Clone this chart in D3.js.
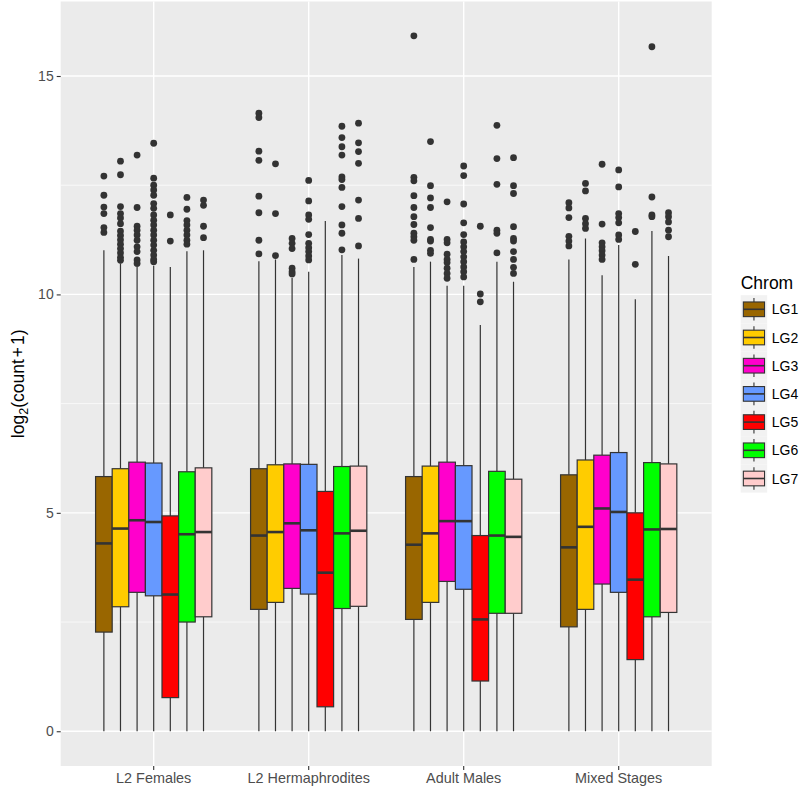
<!DOCTYPE html>
<html>
<head>
<meta charset="utf-8">
<script src="https://cdn.jsdelivr.net/npm/d3@7"></script>
<style>
  body { margin: 0; background: #fff; }
  svg { display: block; font-family: "Liberation Sans", Arial, Helvetica, sans-serif; }
</style>
</head>
<body>
<svg id="chart" width="800" height="790"></svg>
<script>
// ---------------- DATA ----------------
const stages = ["L2 Females", "L2 Hermaphrodites", "Adult Males", "Mixed Stages"];
const chroms = ["LG1", "LG2", "LG3", "LG4", "LG5", "LG6", "LG7"];
const chromColors = ["#996600", "#FFCC00", "#FF00CC", "#6699FF", "#FF0000", "#00FF00", "#FFCCCC"];
const yTicks = [0, 5, 10, 15];
const yMinor = [2.5, 7.5, 12.5];

// per stage, per chromosome
const whiskerLow = [
  [0, 0, 0, 0, 0, 0, 0],
  [0, 0, 0, 0, 0, 0, 0],
  [0, 0, 0, 0, 0, 0, 0],
  [0, 0, 0, 0, 0, 0, 0]
];
const q1 = [
  [2.27, 2.85, 3.18, 3.10, 0.77, 2.50, 2.62],
  [2.79, 2.95, 3.27, 3.14, 0.56, 2.81, 2.86],
  [2.56, 2.95, 3.43, 3.25, 1.15, 2.70, 2.70],
  [2.39, 2.79, 3.37, 3.18, 1.64, 2.62, 2.72]
];
const median = [
  [4.30, 4.64, 4.83, 4.79, 3.13, 4.51, 4.56],
  [4.48, 4.56, 4.76, 4.60, 3.63, 4.53, 4.59],
  [4.27, 4.53, 4.81, 4.81, 2.56, 4.48, 4.45],
  [4.21, 4.68, 5.10, 5.02, 3.47, 4.62, 4.63]
];
const q3 = [
  [5.83, 6.01, 6.16, 6.14, 4.93, 5.94, 6.03],
  [6.01, 6.10, 6.12, 6.11, 5.49, 6.06, 6.07],
  [5.83, 6.07, 6.16, 6.08, 4.48, 5.95, 5.77],
  [5.87, 6.21, 6.32, 6.38, 5.00, 6.15, 6.12]
];
const whiskerHigh = [
  [11.01, 10.71, 10.66, 10.66, 10.63, 10.99, 11.01],
  [10.76, 10.80, 10.38, 10.52, 11.68, 10.90, 10.82],
  [10.63, 10.75, 10.20, 10.20, 9.30, 10.75, 10.29],
  [10.80, 11.28, 10.44, 11.13, 9.89, 11.45, 10.88]
];
const outliers = [
  [ // L2 Females
    [12.71, 12.27, 12.0, 11.85, 11.53, 11.42],
    [13.05, 12.74, 12.01, 11.85, 11.75, 11.62, 11.45, 11.35, 11.25, 11.15, 11.05, 10.95, 10.85, 10.78],
    [13.19, 11.99, 11.56, 11.47, 11.36, 11.24, 11.09, 10.98, 10.79, 10.71],
    [13.46, 12.66, 12.5, 12.39, 12.27, 12.08, 11.97, 11.82, 11.70, 11.59, 11.47, 11.36, 11.24, 11.13, 11.01, 10.90, 10.80, 10.75],
    [11.82, 11.22],
    [12.22, 11.95, 11.69, 11.59, 11.47, 11.36, 11.24, 11.15],
    [12.16, 12.04, 11.56, 11.30]
  ],
  [ // L2 Hermaphrodites
    [14.15, 14.05, 13.28, 13.07, 12.25, 11.87, 11.24, 10.93],
    [12.99, 11.85, 10.89],
    [11.28, 11.17, 11.05, 10.60, 10.52, 10.47],
    [12.61, 12.14, 11.82, 11.72, 11.37, 11.17, 11.07, 10.98, 10.88, 10.79],
    [],
    [13.85, 13.59, 13.38, 13.19, 12.69, 12.63, 12.45, 12.01, 11.59, 11.40, 11.02],
    [13.92, 13.47, 13.27, 13.00, 12.16, 11.74, 11.11]
  ],
  [ // Adult Males
    [15.92, 12.68, 12.6, 12.26, 11.99, 11.78, 11.60, 11.40, 11.32, 11.24, 10.80],
    [13.50, 12.49, 12.21, 11.99, 11.53, 11.26, 11.22, 11.01, 10.94],
    [12.12, 11.26, 11.18, 10.92, 10.80, 10.73, 10.60, 10.48, 10.37],
    [12.94, 12.72, 12.07, 11.64, 11.37, 11.20, 11.09, 10.98, 10.86, 10.75, 10.63, 10.52, 10.40],
    [11.56, 10.01, 9.83],
    [13.87, 13.11, 12.52, 11.47, 11.40, 10.95],
    [13.13, 12.49, 12.31, 11.55, 11.28, 11.22, 10.98, 10.80, 10.62, 10.48]
  ],
  [ // Mixed Stages
    [12.10, 11.98, 11.76, 11.33, 11.22, 11.11],
    [12.54, 12.37, 11.74, 11.62, 11.51],
    [12.98, 11.61, 11.18, 11.09, 11.00, 10.90, 10.80],
    [12.85, 12.46, 11.85, 11.76, 11.64, 11.36, 11.26],
    [11.44, 10.69],
    [15.67, 12.23, 11.82, 11.78],
    [11.87, 11.78, 11.66, 11.47, 11.32]
  ]
];

// ---------------- LAYOUT ----------------
const svg = d3.select("#chart");
const P = { left: 60.7, right: 711.7, top: 1.5, bottom: 766 };
const ink = "#333333";

const x = d3.scaleBand().domain(stages).range([P.left, P.right])
  .paddingInner(0).paddingOuter(0.1);
const dodge = d3.scaleBand().domain(chroms).range([0, x.bandwidth() * 0.75]).padding(0);
const y = d3.scaleLinear().domain([-0.7955, 16.7055]).range([P.bottom, P.top]);
const color = d3.scaleOrdinal().domain(chroms).range(chromColors);

// panel
svg.append("rect").attr("x", P.left).attr("y", P.top)
  .attr("width", P.right - P.left).attr("height", P.bottom - P.top)
  .attr("fill", "#EBEBEB");

const grid = svg.append("g");
grid.selectAll(".minor").data(yMinor).join("line")
  .attr("x1", P.left).attr("x2", P.right)
  .attr("y1", d => y(d)).attr("y2", d => y(d))
  .attr("stroke", "#fff").attr("stroke-width", 0.7);
grid.selectAll(".major").data(yTicks).join("line")
  .attr("x1", P.left).attr("x2", P.right)
  .attr("y1", d => y(d)).attr("y2", d => y(d))
  .attr("stroke", "#fff").attr("stroke-width", 1.4);
grid.selectAll(".vmajor").data(stages).join("line")
  .attr("y1", P.top).attr("y2", P.bottom)
  .attr("x1", d => x(d) + x.bandwidth() / 2).attr("x2", d => x(d) + x.bandwidth() / 2)
  .attr("stroke", "#fff").attr("stroke-width", 1.4);

// boxes
const boxes = [];
stages.forEach((s, si) => chroms.forEach((c, ci) => {
  boxes.push({
    stage: s, chrom: c,
    lo: whiskerLow[si][ci], q1: q1[si][ci], med: median[si][ci],
    q3: q3[si][ci], hi: whiskerHigh[si][ci], out: outliers[si][ci]
  });
}));
const bw = dodge.bandwidth();
const bx = d => x(d.stage) + x.bandwidth() / 2 - x.bandwidth() * 0.375 + dodge(d.chrom);

const g = svg.append("g");
const bg = g.selectAll("g.box").data(boxes).join("g");
bg.append("line")
  .attr("x1", d => bx(d) + bw / 2).attr("x2", d => bx(d) + bw / 2)
  .attr("y1", d => y(d.q3)).attr("y2", d => y(d.hi))
  .attr("stroke", ink).attr("stroke-width", 1.2);
bg.append("line")
  .attr("x1", d => bx(d) + bw / 2).attr("x2", d => bx(d) + bw / 2)
  .attr("y1", d => y(d.q1)).attr("y2", d => y(d.lo))
  .attr("stroke", ink).attr("stroke-width", 1.2);
bg.append("rect")
  .attr("x", d => bx(d)).attr("width", bw)
  .attr("y", d => y(d.q3)).attr("height", d => y(d.q1) - y(d.q3))
  .attr("fill", d => color(d.chrom)).attr("stroke", ink).attr("stroke-width", 1.2);
bg.append("line")
  .attr("x1", d => bx(d)).attr("x2", d => bx(d) + bw)
  .attr("y1", d => y(d.med)).attr("y2", d => y(d.med))
  .attr("stroke", ink).attr("stroke-width", 2.6);
bg.selectAll("circle").data(d => d.out.map(v => ({ v, cx: bx(d) + bw / 2 }))).join("circle")
  .attr("cx", d => d.cx).attr("cy", d => y(d.v)).attr("r", 3.4)
  .attr("fill", ink);

// axes
const yAxis = svg.append("g").attr("transform", `translate(${P.left},0)`)
  .call(d3.axisLeft(y).tickValues(yTicks).tickSize(4).tickPadding(3).tickFormat(d3.format("d")));
yAxis.select(".domain").remove();
yAxis.selectAll(".tick line").attr("stroke", ink).attr("stroke-width", 1.1);
yAxis.selectAll(".tick text").attr("fill", "#4D4D4D").attr("font-size", 14)
  .attr("font-family", "Liberation Sans, Arial, sans-serif");

const xAxis = svg.append("g").attr("transform", `translate(0,${P.bottom})`)
  .call(d3.axisBottom(x).tickSize(4).tickPadding(3));
xAxis.select(".domain").remove();
xAxis.selectAll(".tick line").attr("stroke", ink).attr("stroke-width", 1.1);
xAxis.selectAll(".tick text").attr("fill", "#4D4D4D").attr("font-size", 14.4)
  .attr("font-family", "Liberation Sans, Arial, sans-serif");

// y title
const yt = svg.append("text")
  .attr("transform", `translate(24,${(P.top + P.bottom) / 2}) rotate(-90)`)
  .attr("text-anchor", "middle").attr("font-size", 17.5).attr("fill", "#000");
yt.append("tspan").text("log");
yt.append("tspan").text("2").attr("font-size", 12.5).attr("dy", 4);
yt.append("tspan").text("(count").attr("dy", -4);
yt.append("tspan").text("+").attr("dx", 2);
yt.append("tspan").text("1)").attr("dx", 2);

// legend
const L = { x: 740.7, y: 295.2, key: 28.2, w: 26.5 };
svg.append("text").attr("x", L.x).attr("y", 289).attr("font-size", 17.5).attr("fill", "#000")
  .text("Chrom");
const lg = svg.append("g").selectAll("g").data(chroms).join("g")
  .attr("transform", (d, i) => `translate(${L.x},${L.y + i * L.key})`);
lg.append("rect").attr("width", L.w).attr("height", L.key).attr("fill", "#F2F2F2");
lg.append("line").attr("x1", L.w / 2).attr("x2", L.w / 2)
  .attr("y1", L.key * 0.1).attr("y2", L.key * 0.9)
  .attr("stroke", ink).attr("stroke-width", 1.1);
lg.append("rect").attr("x", L.w * 0.1).attr("width", L.w * 0.8)
  .attr("y", L.key * 0.24).attr("height", L.key * 0.52)
  .attr("fill", d => color(d)).attr("stroke", ink).attr("stroke-width", 1.1);
lg.append("line").attr("x1", L.w * 0.1).attr("x2", L.w * 0.9)
  .attr("y1", L.key / 2).attr("y2", L.key / 2)
  .attr("stroke", ink).attr("stroke-width", 1.6);
lg.append("text").attr("x", L.w + 4.5).attr("y", L.key / 2).attr("dy", "0.36em")
  .attr("font-size", 14).attr("fill", "#000").text(d => d);
</script>
</body>
</html>
